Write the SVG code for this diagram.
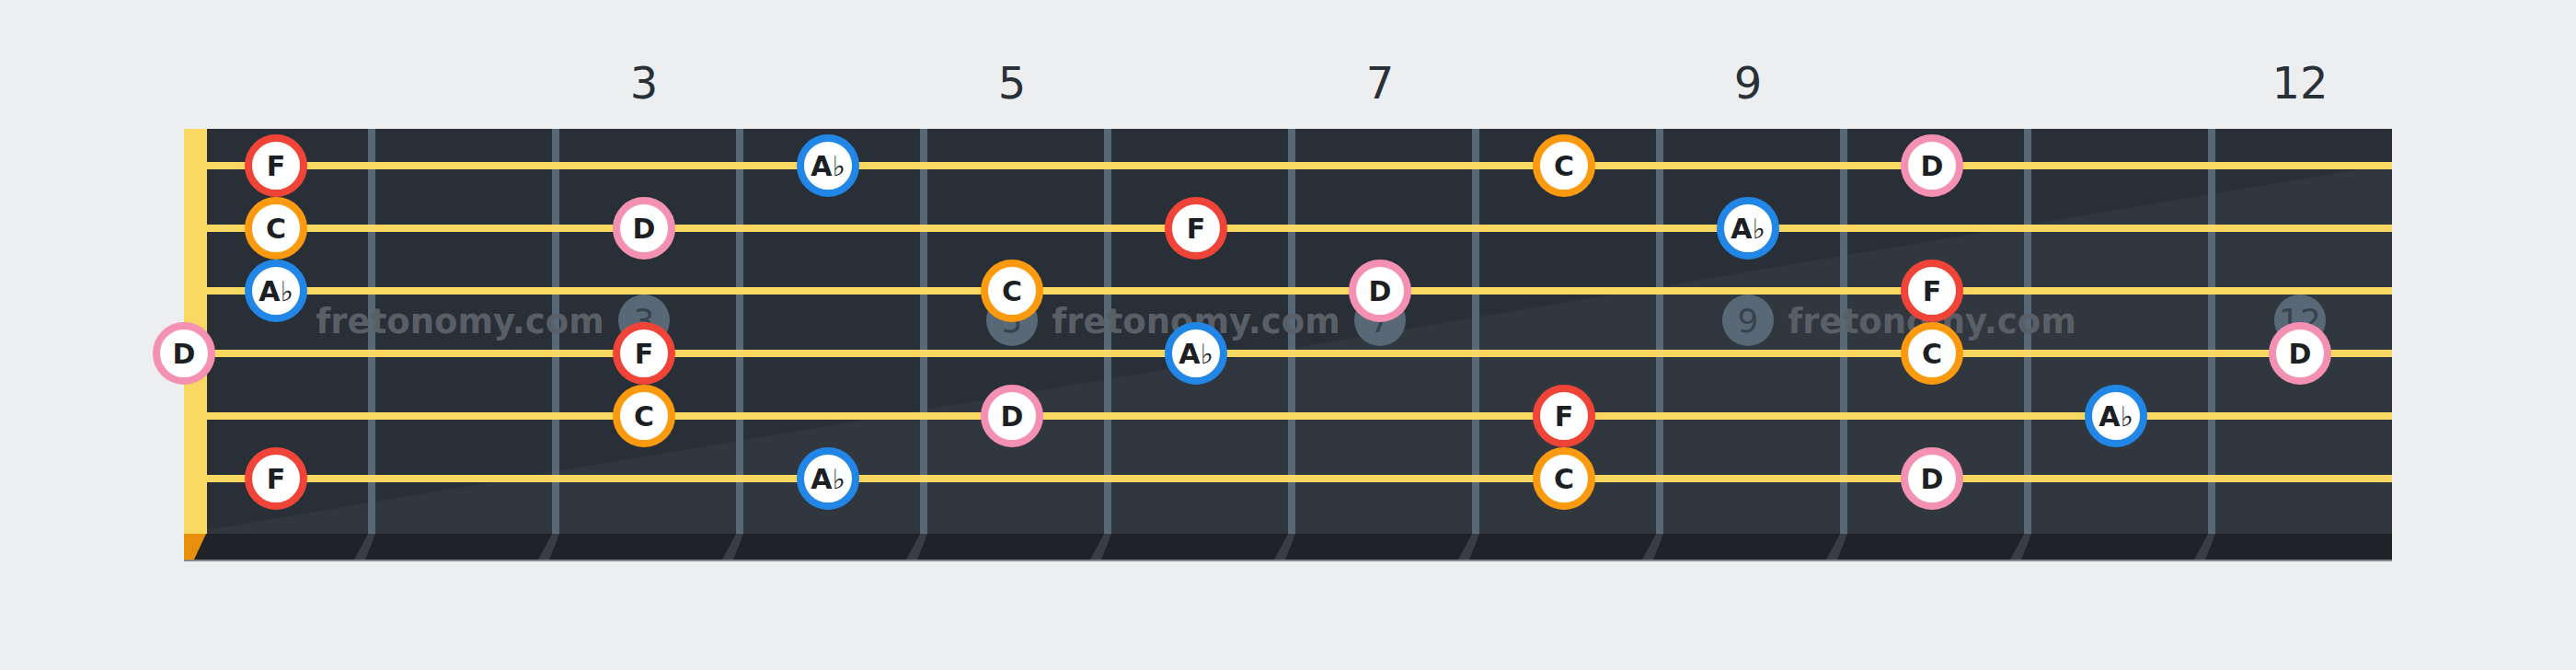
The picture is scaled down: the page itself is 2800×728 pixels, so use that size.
<svg xmlns="http://www.w3.org/2000/svg" width="2800" height="728" viewBox="0 0 2800 728">
<style>
.fret{fill:#586876}
.str{fill:#f8d862}
.lbl{font-family:"DejaVu Sans",sans-serif;font-size:48px;fill:#2a3038;text-anchor:middle}
.inl{fill:#586876}
.inlt{font-family:"DejaVu Sans",sans-serif;font-size:36px;fill:#38424d;text-anchor:middle}
.wm{font-family:"DejaVu Sans",sans-serif;font-weight:bold;font-size:37px;fill:#5a5e65;text-anchor:middle}
.note circle{fill:#ffffff;stroke-width:8}
.note text{font-family:"DejaVu Sans",sans-serif;font-weight:bold;font-size:30px;fill:#1c1f24;text-anchor:middle}
.fl{font-weight:normal;font-size:30px}
.F circle{stroke:#f04438}
.C circle{stroke:#fb9a0e}
.A circle{stroke:#2186e6}
.D circle{stroke:#f490b2}
.sh{fill:#3a3e44}
</style>
<rect width="2800" height="728" fill="#edeef0"/>
<g id="board">
<rect x="200" y="140" width="2400" height="440" fill="#282f37"/>
<polygon points="200,580 2600,178 2600,580" fill="#31373f"/>
<rect x="200" y="580" width="2400" height="28" fill="#1f2327"/>
<rect x="200" y="608" width="2400" height="2" fill="#868b92"/>
<polygon points="200,580 224,580 211,608 200,608" fill="#e8900e"/>
<rect x="200" y="140" width="25" height="440" fill="#f8d862"/>
</g>
<g id="frets">
<polygon class="sh" points="400,580 408,580 397,608 385,608"/>
<polygon class="sh" points="600,580 608,580 597,608 585,608"/>
<polygon class="sh" points="800,580 808,580 797,608 785,608"/>
<polygon class="sh" points="1000,580 1008,580 997,608 985,608"/>
<polygon class="sh" points="1200,580 1208,580 1197,608 1185,608"/>
<polygon class="sh" points="1400,580 1408,580 1397,608 1385,608"/>
<polygon class="sh" points="1600,580 1608,580 1597,608 1585,608"/>
<polygon class="sh" points="1800,580 1808,580 1797,608 1785,608"/>
<polygon class="sh" points="2000,580 2008,580 1997,608 1985,608"/>
<polygon class="sh" points="2200,580 2208,580 2197,608 2185,608"/>
<polygon class="sh" points="2400,580 2408,580 2397,608 2385,608"/>
<rect class="fret" x="400" y="140" width="8" height="440"/>
<rect class="fret" x="600" y="140" width="8" height="440"/>
<rect class="fret" x="800" y="140" width="8" height="440"/>
<rect class="fret" x="1000" y="140" width="8" height="440"/>
<rect class="fret" x="1200" y="140" width="8" height="440"/>
<rect class="fret" x="1400" y="140" width="8" height="440"/>
<rect class="fret" x="1600" y="140" width="8" height="440"/>
<rect class="fret" x="1800" y="140" width="8" height="440"/>
<rect class="fret" x="2000" y="140" width="8" height="440"/>
<rect class="fret" x="2200" y="140" width="8" height="440"/>
<rect class="fret" x="2400" y="140" width="8" height="440"/>
</g>
<g id="inlays">
<circle class="inl" cx="700" cy="348" r="28"/><text class="inlt" x="700" y="361">3</text>
<circle class="inl" cx="1100" cy="348" r="28"/><text class="inlt" x="1100" y="361">5</text>
<circle class="inl" cx="1500" cy="348" r="28"/><text class="inlt" x="1500" y="361">7</text>
<circle class="inl" cx="1900" cy="348" r="28"/><text class="inlt" x="1900" y="361">9</text>
<circle class="inl" cx="2500" cy="348" r="28"/><text class="inlt" x="2500" y="361">12</text>
</g>
<g id="watermark">
<text class="wm" x="500" y="362">fretonomy.com</text>
<text class="wm" x="1300" y="362">fretonomy.com</text>
<text class="wm" x="2100" y="362">fretonomy.com</text>
</g>
<g id="strings">
<rect class="str" x="225" y="176" width="2375" height="8"/>
<rect class="str" x="225" y="244" width="2375" height="8"/>
<rect class="str" x="225" y="312" width="2375" height="8"/>
<rect class="str" x="225" y="380" width="2375" height="8"/>
<rect class="str" x="225" y="448" width="2375" height="8"/>
<rect class="str" x="225" y="516" width="2375" height="8"/>
</g>
<g id="fret-labels">
<text class="lbl" x="700" y="107">3</text>
<text class="lbl" x="1100" y="107">5</text>
<text class="lbl" x="1500" y="107">7</text>
<text class="lbl" x="1900" y="107">9</text>
<text class="lbl" x="2500" y="107">12</text>
</g>
<g id="notes">
<g id="s1f1" class="note F"><circle cx="300" cy="180" r="30"/><text x="300" y="191">F</text></g>
<g id="s1f4" class="note A"><circle cx="900" cy="180" r="30"/><text x="900" y="191">A<tspan class="fl">♭</tspan></text></g>
<g id="s1f8" class="note C"><circle cx="1700" cy="180" r="30"/><text x="1700" y="191">C</text></g>
<g id="s1f10" class="note D"><circle cx="2100" cy="180" r="30"/><text x="2100" y="191">D</text></g>
<g id="s2f1" class="note C"><circle cx="300" cy="248" r="30"/><text x="300" y="259">C</text></g>
<g id="s2f3" class="note D"><circle cx="700" cy="248" r="30"/><text x="700" y="259">D</text></g>
<g id="s2f6" class="note F"><circle cx="1300" cy="248" r="30"/><text x="1300" y="259">F</text></g>
<g id="s2f9" class="note A"><circle cx="1900" cy="248" r="30"/><text x="1900" y="259">A<tspan class="fl">♭</tspan></text></g>
<g id="s3f1" class="note A"><circle cx="300" cy="316" r="30"/><text x="300" y="327">A<tspan class="fl">♭</tspan></text></g>
<g id="s3f5" class="note C"><circle cx="1100" cy="316" r="30"/><text x="1100" y="327">C</text></g>
<g id="s3f7" class="note D"><circle cx="1500" cy="316" r="30"/><text x="1500" y="327">D</text></g>
<g id="s3f10" class="note F"><circle cx="2100" cy="316" r="30"/><text x="2100" y="327">F</text></g>
<g id="s4f0" class="note D"><circle cx="200" cy="384" r="30"/><text x="200" y="395">D</text></g>
<g id="s4f3" class="note F"><circle cx="700" cy="384" r="30"/><text x="700" y="395">F</text></g>
<g id="s4f6" class="note A"><circle cx="1300" cy="384" r="30"/><text x="1300" y="395">A<tspan class="fl">♭</tspan></text></g>
<g id="s4f10" class="note C"><circle cx="2100" cy="384" r="30"/><text x="2100" y="395">C</text></g>
<g id="s4f12" class="note D"><circle cx="2500" cy="384" r="30"/><text x="2500" y="395">D</text></g>
<g id="s5f3" class="note C"><circle cx="700" cy="452" r="30"/><text x="700" y="463">C</text></g>
<g id="s5f5" class="note D"><circle cx="1100" cy="452" r="30"/><text x="1100" y="463">D</text></g>
<g id="s5f8" class="note F"><circle cx="1700" cy="452" r="30"/><text x="1700" y="463">F</text></g>
<g id="s5f11" class="note A"><circle cx="2300" cy="452" r="30"/><text x="2300" y="463">A<tspan class="fl">♭</tspan></text></g>
<g id="s6f1" class="note F"><circle cx="300" cy="520" r="30"/><text x="300" y="531">F</text></g>
<g id="s6f4" class="note A"><circle cx="900" cy="520" r="30"/><text x="900" y="531">A<tspan class="fl">♭</tspan></text></g>
<g id="s6f8" class="note C"><circle cx="1700" cy="520" r="30"/><text x="1700" y="531">C</text></g>
<g id="s6f10" class="note D"><circle cx="2100" cy="520" r="30"/><text x="2100" y="531">D</text></g>
</g>
</svg>
